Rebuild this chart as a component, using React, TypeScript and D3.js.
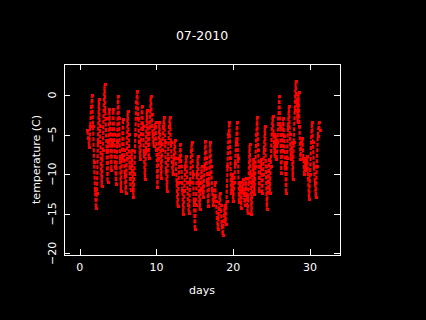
import { useEffect, useRef } from "react";
import * as d3 from "d3";

// 3-hourly temperature readings, one row per day (day 1 .. day 31)
const SAMPLES_PER_DAY = 8;
const FIRST_DAY = 1;
const TEMPS: number[][] = [
  [-4.5, -5.5, -6.6, -4, -1.5, -0.1, -4, -8.5],
  [-12, -14.3, -12.5, -6, -0.6, -4, -8, -11.6],
  [-7, -2, 1.3, -3, -7, -11, -6, -1.9],
  [-5, -9.5, -6, -1.9, -5, -9, -11.3, -6],
  [-0.2, -3, -8, -12.2, -8, -3.1, -7, -10],
  [-12.4, -8, -2.1, -5, -9, -12, -7, -9.5],
  [-12.9, -10, -5, -1, 0.4, -3, -6, -8.2],
  [-5, -1.5, -4, -7.5, -10.7, -7, -2, -5],
  [-8, -4, -0.2, -2.5, -5, -6.5, -4, -3.5],
  [-7, -11.7, -8, -3.5, -6, -10.5, -7, -4],
  [-2.9, -6, -9.5, -12.2, -8, -4, -2.8, -6],
  [-8.5, -10.1, -8, -5.7, -8, -11, -14.1, -11],
  [-8, -6.3, -9, -12, -15.1, -12, -9, -7.8],
  [-11, -14, -15, -11, -7, -6, -10, -13.5],
  [-17, -14, -10, -7.8, -11, -14.4, -12, -9],
  [-11.5, -13, -9, -5.9, -8, -11.1, -14.1, -10],
  [-6, -9, -12, -14, -13, -11, -13.5, -15.5],
  [-17, -14.5, -12.4, -14, -16.5, -17.7, -16, -14],
  [-16.3, -13.4, -9, -5, -3.5, -8, -12.4, -10],
  [-13.4, -11, -8.7, -6, -3.5, -8, -13.6, -11],
  [-14.3, -12, -10.7, -12.5, -14, -10.5, -13, -15],
  [-11, -6.3, -10, -15.1, -11, -8.2, -12.6, -9],
  [-5, -2.9, -7, -12.2, -9, -8.2, -12.5, -10],
  [-7, -4, -9, -14.5, -11, -8.2, -12.5, -9],
  [-5, -2.7, -5, -7.8, -5.3, -8.2, -6, -3],
  [-0.2, -4, -9.9, -7, -3, -5.3, -9, -12.4],
  [-8, -4, -1.5, -5, -8.2, -6, -10.7, -6],
  [-2, 1.7, -1, -3.5, 0.3, -4, -8.2, -6],
  [-5.5, -8, -10, -8, -9.5, -7.8, -10.5, -13.2],
  [-10, -6, -3.5, -6, -9, -11, -13, -9],
  [-5.3, -3.5, -4.5],
];

const X_TICKS = [0, 10, 20, 30];
const Y_TICKS = [0, -5, -10, -15, -20];
const TITLE = "07-2010";
const X_LABEL = "days";
const Y_LABEL = "temperature (C)";

export default function App() {
  const svgRef = useRef<SVGSVGElement>(null);

  useEffect(() => {
    if (!svgRef.current) return;
    const width = 426;
    const height = 320;
    const box = { left: 64, right: 340, top: 64, bottom: 255 };
    const font = "'DejaVu Sans', sans-serif";

    const svg = d3.select(svgRef.current);
    svg.selectAll("*").remove();
    svg.attr("width", width).attr("height", height);

    svg.append("rect").attr("width", width).attr("height", height).attr("fill", "#000");

    const x = d3.scaleLinear().domain([-2.04, 33.9]).range([box.left, box.right]);
    const y = d3.scaleLinear().domain([-20.2, 3.9]).range([box.bottom, box.top]);

    const points = TEMPS.flatMap((row, d) =>
      row.map((t, i) => ({ day: FIRST_DAY + d + i / SAMPLES_PER_DAY, t }))
    );

    // dense readings blur into a dotted trace; a dashed path stands in for the in-between samples
    const line = d3
      .line<{ day: number; t: number }>()
      .x((p) => x(p.day))
      .y((p) => y(p.t));

    svg
      .append("path")
      .datum(points)
      .attr("d", line)
      .attr("fill", "none")
      .attr("stroke", "#ff0000")
      .attr("stroke-width", 2.2)
      .attr("stroke-dasharray", "4,1.5");

    svg
      .append("g")
      .selectAll("rect")
      .data(points)
      .join("rect")
      .attr("x", (p) => Math.round(x(p.day) - 1))
      .attr("y", (p) => Math.round(y(p.t) - 1.5))
      .attr("width", 3)
      .attr("height", 3)
      .attr("fill", "#ff0000");

    // frame
    svg
      .append("rect")
      .attr("x", box.left + 0.5)
      .attr("y", box.top + 0.5)
      .attr("width", box.right - box.left)
      .attr("height", box.bottom - box.top)
      .attr("fill", "none")
      .attr("stroke", "#fff")
      .attr("stroke-width", 1);

    // inward ticks on all four sides
    const tickLen = 6;
    const ticks = svg.append("g").attr("stroke", "#fff").attr("stroke-width", 1);
    X_TICKS.forEach((v) => {
      const px = Math.round(x(v)) + 0.5;
      ticks.append("line").attr("x1", px).attr("x2", px).attr("y1", box.bottom).attr("y2", box.bottom - tickLen);
      ticks.append("line").attr("x1", px).attr("x2", px).attr("y1", box.top).attr("y2", box.top + tickLen);
    });
    Y_TICKS.forEach((v) => {
      const py = Math.round(y(v)) + 0.5;
      ticks.append("line").attr("x1", box.left).attr("x2", box.left + tickLen).attr("y1", py).attr("y2", py);
      ticks.append("line").attr("x1", box.right).attr("x2", box.right - tickLen).attr("y1", py).attr("y2", py);
    });

    const fmt = (v: number) => (v < 0 ? `\u2212${Math.abs(v)}` : `${v}`);

    svg
      .append("g")
      .selectAll("text")
      .data(X_TICKS)
      .join("text")
      .attr("x", (v) => x(v))
      .attr("y", 271)
      .attr("text-anchor", "middle")
      .attr("font-family", font)
      .attr("font-size", 11)
      .attr("fill", "#fff")
      .text(fmt);

    svg
      .append("g")
      .selectAll("text")
      .data(Y_TICKS)
      .join("text")
      .attr("transform", (v) => `translate(56,${y(v)}) rotate(-90)`)
      .attr("text-anchor", "middle")
      .attr("font-family", font)
      .attr("font-size", 11)
      .attr("fill", "#fff")
      .text(fmt);

    svg
      .append("text")
      .attr("x", (box.left + box.right) / 2)
      .attr("y", 40)
      .attr("text-anchor", "middle")
      .attr("font-family", font)
      .attr("font-size", 12.5)
      .attr("fill", "#fff")
      .text(TITLE);

    svg
      .append("text")
      .attr("x", (box.left + box.right) / 2)
      .attr("y", 294)
      .attr("text-anchor", "middle")
      .attr("font-family", font)
      .attr("font-size", 11)
      .attr("fill", "#fff")
      .text(X_LABEL);

    svg
      .append("text")
      .attr("transform", `translate(40,${(box.top + box.bottom) / 2}) rotate(-90)`)
      .attr("text-anchor", "middle")
      .attr("font-family", font)
      .attr("font-size", 11)
      .attr("fill", "#fff")
      .text(Y_LABEL);
  }, []);

  return (
    <div style={{ position: "fixed", left: 0, top: 0, width: 426, height: 320, background: "#000" }}>
      <svg ref={svgRef} style={{ display: "block" }} />
    </div>
  );
}
